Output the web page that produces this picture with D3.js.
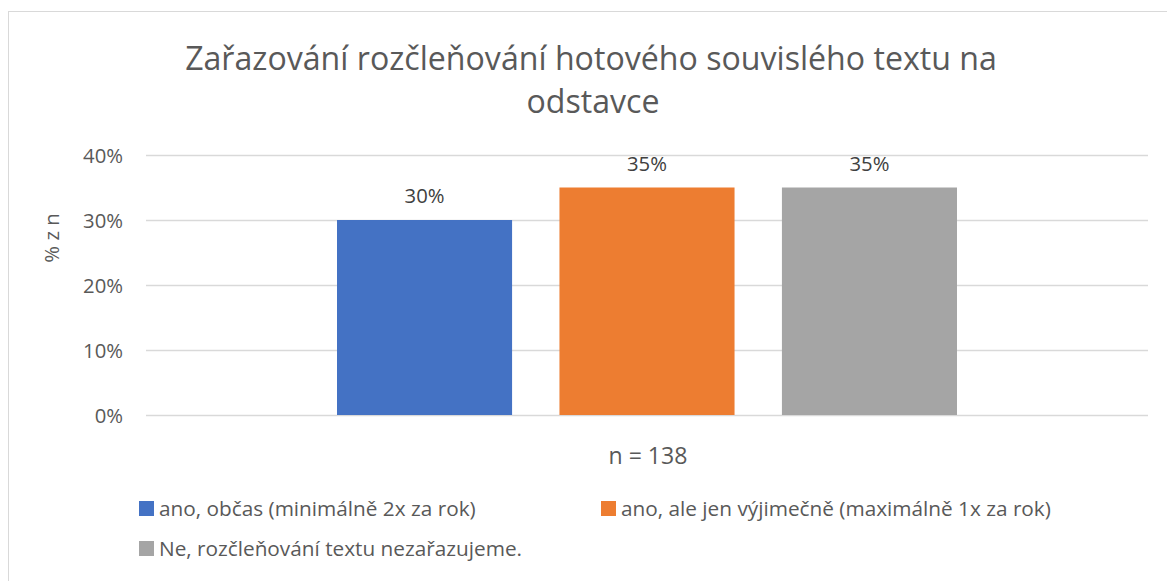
<!DOCTYPE html>
<html><head><meta charset="utf-8">
<script src="https://cdn.jsdelivr.net/npm/d3@7"></script>
<style>body{margin:0;background:#fff;} text{font-family:"Open Sans","Liberation Sans",sans-serif;}</style>
</head><body>
<svg id="c" width="1167" height="581"></svg>
<script>
const titleLines = ["Zařazování rozčleňování hotového souvislého textu na", "odstavce"];
const category = "n = 138";
const series = ["ano, občas (minimálně 2x za rok)", "ano, ale jen výjimečně (maximálně 1x za rok)", "Ne, rozčleňování textu nezařazujeme."];
const values = [0.30, 0.35, 0.35];
const colors = ["#4472C4", "#ED7D31", "#A5A5A5"];
const yTicks = [0, 0.1, 0.2, 0.3, 0.4];
const yLabel = "% z n";

const svg = d3.select("#c");
const textCol = "#595959";

svg.append("rect").attr("x", 8.5).attr("y", 11.5).attr("width", 1170).attr("height", 600)
  .attr("fill", "#fff").attr("stroke", "#d9d9d9").attr("stroke-width", 1);

function fit(sel, w) {
  const n = sel.node(); const cur = n.getComputedTextLength();
  const fs = parseFloat(sel.attr("font-size"));
  sel.attr("font-size", fs * w / cur);
}

// title
const t1 = svg.append("text").attr("x", 591).attr("y", 70).attr("text-anchor", "middle")
  .attr("font-size", 29).attr("fill", textCol).text(titleLines[0]);
fit(t1, 812);
svg.append("text").attr("x", 593).attr("y", 113).attr("text-anchor", "middle")
  .attr("font-size", t1.attr("font-size")).attr("fill", textCol).text(titleLines[1]);

const y = d3.scaleLinear().domain([0, 0.4]).range([415, 155]);
const x0 = d3.scaleBand().domain([category]).range([146, 1148]);
const x1 = d3.scaleBand().domain(series).range([337 - 146, 957 - 146]).paddingInner(0.213);

// gridlines
const yAxis = d3.axisLeft(y).tickValues(yTicks).tickFormat(d3.format(".0%")).tickSize(-(1148 - 146)).tickPadding(23);
const gy = svg.append("g").attr("transform", "translate(146,0)").call(yAxis);
gy.select(".domain").remove();
gy.selectAll(".tick line").attr("stroke", "#d9d9d9").attr("stroke-width", 1.3);
gy.selectAll(".tick text").attr("font-size", 20.3).attr("fill", textCol).attr("dy", "0.35em");

// bars
const g = svg.append("g");
g.selectAll("rect").data(values).join("rect")
  .attr("x", (d, i) => 146 + x1(series[i]))
  .attr("width", x1.bandwidth())
  .attr("y", d => y(d)).attr("height", d => y(0) - y(d))
  .attr("fill", (d, i) => colors[i]);

g.selectAll("text.lbl").data(values).join("text").attr("class", "lbl")
  .attr("x", (d, i) => 146 + x1(series[i]) + x1.bandwidth() / 2)
  .attr("y", d => y(d) - 24).attr("dy", "0.35em").attr("text-anchor", "middle")
  .attr("font-size", 20.3).attr("fill", "#404040").text(d3.format(".0%"));

// x axis category
const cat = svg.append("text").attr("x", x0(category) + x0.bandwidth() / 2 + 1).attr("y", 456).attr("dy", "0.35em").attr("text-anchor", "middle")
  .attr("font-size", 20).attr("fill", textCol).text(category);
fit(cat, 79);

// y label
svg.append("text").attr("transform", "translate(52,238) rotate(-90)").attr("text-anchor", "middle")
  .attr("dy", "0.35em").attr("font-size", 20.3).attr("fill", textCol).text(yLabel);

// legend
const legPos = [[139, 508.5], [601, 508.5], [139, 548.5]];
let legFs = 19;
series.forEach((s, i) => {
  svg.append("rect").attr("x", legPos[i][0]).attr("y", legPos[i][1] - 7.5).attr("width", 15).attr("height", 15).attr("fill", colors[i]);
  const t = svg.append("text").attr("x", legPos[i][0] + 20).attr("y", legPos[i][1]).attr("dy", "0.35em")
    .attr("font-size", legFs).attr("fill", textCol).text(s);
  if (i === 0) { fit(t, 317); legFs = t.attr("font-size"); }
});
</script>
</body></html>
